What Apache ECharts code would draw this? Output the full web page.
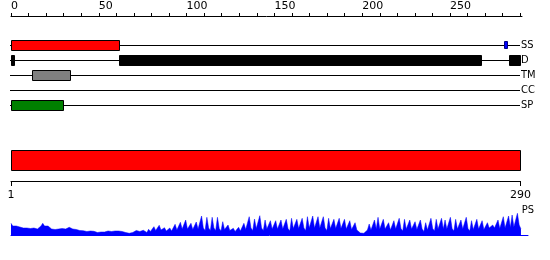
<!DOCTYPE html>
<html>
<head>
<meta charset="utf-8">
<script src="https://cdn.jsdelivr.net/npm/echarts@6/dist/echarts.min.js"></script>
<style>html,body{margin:0;padding:0;background:#fff;}#c{width:550px;height:260px;}</style>
</head>
<body>
<div id="c"></div>
<script>
// ---- data ----
var SEQ_LEN = 290;
var TRACKS = ['SS', 'D', 'TM', 'CC', 'SP'];
// feature boxes: [start (residue-1), end residue, track]
var SS_BOXES = [[0, 62, 'SS']];
var SS_SMALL = [[281, 282.7, 'SS']];
var D_BOXES = [[0, 2, 'D'], [62, 268, 'D'], [284, 290, 'D']];
var TM_BOXES = [[12, 34, 'TM']];
var CC_BOXES = [];
var SP_BOXES = [[0, 30, 'SP']];
var FULL_BAR = [[0, 290]];
var TOP_TICK_LABEL_STEP = 50;
var BOTTOM_TICKS = [1, 290];
var PS_VALUES = [
  11.7, 9, 7, 9, 10.5, 8, 6.5, 7, 6.5, 7,
  7.5, 6.5, 6, 7, 7, 6, 7, 9, 11.7, 9,
  7.5, 9, 8, 6, 5.5, 5.5, 6.7, 6, 5, 6.5,
  8, 6, 6.5, 7.7, 6.5, 6, 6, 5.5, 5, 4.5,
  5, 4.3, 4, 3.5, 3.5, 4, 3.5, 3.7, 3, 2.5,
  3, 3, 2.5, 3, 3.5, 4, 3, 3.5, 3.5, 4,
  5, 4, 3, 3.5, 3, 2.5, 2, 1.7, 2, 2.5,
  3.5, 4.5, 5.7, 3.5, 3, 4.7, 3, 2.5, 5.7, 3.5,
  3, 8.3, 4.5, 3.5, 9.7, 5, 3.5, 7.3, 4, 3,
  7, 4, 3.5, 10.7, 5, 4, 12.7, 6, 4, 15,
  6, 4, 11.7, 5.5, 4, 13, 6, 4, 19, 7,
  4.5, 17.7, 7, 4.5, 17.7, 7, 4.5, 17.7, 6.5, 4,
  13.3, 5.5, 3.5, 10, 4.5, 3, 6.7, 3.5, 3, 7.7,
  4, 3.5, 11.7, 5.5, 4, 18.3, 7, 4.5, 16, 6.5,
  4.5, 19.3, 7, 4.5, 15, 6, 4, 14.3, 6, 4,
  14.3, 6, 4, 15, 6, 4, 15.7, 6.5, 4, 16.7,
  6.5, 4.5, 15.7, 6.5, 4.5, 16.7, 7, 4.5, 18.3, 7,
  5, 19, 7, 5, 18.3, 7, 5, 18.3, 7, 4.5,
  16.7, 6.5, 4.5, 15.7, 6.5, 4.5, 16.7, 6.5, 4.5, 15.7,
  6, 4, 14.3, 5.5, 4, 12.3, 5, 3, 2, 1.7,
  1.7, 3, 5, 11, 5, 3.5, 15, 6, 17.7, 6,
  4, 15.7, 6, 4, 12.3, 5, 3.5, 14.3, 6, 4,
  16.7, 6.5, 4, 15.7, 6, 4, 15, 6, 4, 13.3,
  5.5, 4, 15, 6, 3.5, 12.3, 5, 3.5, 16.7, 6.5,
  4, 15.7, 6, 4, 16.7, 6, 15, 6, 4, 17.7,
  6.5, 4, 15.7, 6, 4, 15, 6, 4, 17.7, 6.5,
  4, 14.3, 5.5, 4, 15.7, 6, 4, 14.3, 5.5, 4,
  12.3, 7, 6.7, 10, 7, 5, 15, 6.5, 5, 18.3,
  7, 5, 19, 7.5, 20, 8, 6, 21.7, 10, 6
];

// ---- chart ----
var chart = echarts.init(document.getElementById('c'), null, {renderer: 'canvas'});
var FONT = 'DejaVu Sans';
var LABEL_FONT = 'DejaVu Sans Condensed, DejaVu Sans';

function crisp(v) { return Math.round(v) + 0.5; }

function boxRenderer(fill, stroke, hFrac) {
  return function (params, api) {
    var p0 = api.coord([api.value(0), api.value(2)]);
    var p1 = api.coord([api.value(1), api.value(2)]);
    var h = Math.round(api.size([0, 1])[1] * hFrac);
    var x0 = crisp(p0[0] - 0.5), x1 = crisp(p1[0] - 0.5);
    var y0 = crisp(p0[1] - h / 2 - 0.5);
    return {
      type: 'rect',
      shape: {x: x0, y: y0, width: x1 - x0, height: h},
      style: {fill: fill, stroke: stroke, lineWidth: 1}
    };
  };
}
function lineRenderer(params, api) {
  var p0 = api.coord([0, api.value(0)]);
  var p1 = api.coord([SEQ_LEN, api.value(0)]);
  var y = crisp(p0[1] - 0.5);
  return {
    type: 'line',
    shape: {x1: Math.round(p0[0]) - 1, y1: y, x2: Math.round(p1[0]), y2: y},
    style: {stroke: '#000', lineWidth: 1}
  };
}
function boxSeries(data, fill, stroke, hFrac) {
  return {
    type: 'custom', xAxisIndex: 1, yAxisIndex: 1, z: 3,
    renderItem: boxRenderer(fill, stroke, hFrac),
    encode: {x: [0, 1], y: 2},
    data: data
  };
}

var psData = PS_VALUES.map(function (v, i) { return [i + 1, v]; });

var hidden = {show: false};
var option = {
  animation: false,
  backgroundColor: '#fff',
  grid: [
    {left: 11, top: 15, width: 511, height: 1},          // top ruler
    {left: 11, top: 45, width: 509, height: 60},         // tracks
    {left: 11, top: 150, width: 509, height: 20},        // full-length bar
    {left: 11, top: 180, width: 509.5, height: 1},       // bottom ruler
    {left: 11, top: 212, width: 517, height: 23}         // PS profile
  ],
  xAxis: [
    {
      gridIndex: 0, type: 'value', position: 'top', min: 0, max: 291, interval: 10,
      axisLine: {show: true, lineStyle: {color: '#000', width: 1}},
      axisTick: {show: true, length: 3, lineStyle: {color: '#000'}},
      axisLabel: {
        show: true, align: 'left', margin: 3, fontFamily: FONT, fontSize: 11, color: '#000',
        showMaxLabel: false,
        formatter: function (v) { return v % TOP_TICK_LABEL_STEP === 0 ? String(v) : ''; }
      },
      splitLine: {show: false}
    },
    {gridIndex: 1, type: 'value', min: 0, max: SEQ_LEN, show: false},
    {gridIndex: 2, type: 'value', min: 0, max: SEQ_LEN, show: false},
    {
      gridIndex: 3, type: 'value', position: 'top', min: 1, max: 290,
      axisLine: {show: true, lineStyle: {color: '#000', width: 1}},
      axisTick: {show: true, inside: true, length: 5, customValues: BOTTOM_TICKS, lineStyle: {color: '#000'}},
      axisLabel: {show: true, inside: true, margin: 10, customValues: BOTTOM_TICKS, fontFamily: FONT, fontSize: 11, color: '#000', verticalAlign: 'top'},
      splitLine: {show: false}
    },
    {
      gridIndex: 4, type: 'value', min: 1, max: 294,
      axisLine: {show: true, onZero: false, lineStyle: {color: '#0000ff', width: 1}},
      axisTick: hidden, axisLabel: hidden, splitLine: hidden
    }
  ],
  yAxis: [
    {gridIndex: 0, type: 'value', show: false},
    {
      gridIndex: 1, type: 'category', data: TRACKS, inverse: true, boundaryGap: false, position: 'right',
      axisLine: hidden, axisTick: hidden, splitLine: hidden,
      axisLabel: {show: true, margin: 1, fontFamily: LABEL_FONT, fontSize: 11, color: '#000'}
    },
    {gridIndex: 2, type: 'value', min: 0, max: 1, show: false},
    {gridIndex: 3, type: 'value', show: false},
    {
      gridIndex: 4, type: 'value', min: 0, max: 23, position: 'right',
      axisLine: hidden, axisTick: hidden, axisLabel: hidden, splitLine: hidden,
      name: 'PS', nameLocation: 'end', nameGap: 2,
      nameTextStyle: {fontFamily: LABEL_FONT, fontSize: 11, color: '#000', align: 'center', verticalAlign: 'middle'}
    }
  ],
  series: [
    {
      type: 'custom', xAxisIndex: 1, yAxisIndex: 1, z: 2,
      renderItem: lineRenderer, encode: {y: 0},
      data: TRACKS.map(function (t) { return [t]; })
    },
    boxSeries(SS_BOXES, '#ff0000', '#000', 0.667),
    boxSeries(SS_SMALL, '#0000ff', '#000080', 0.45),
    boxSeries(D_BOXES, '#000', '#000', 0.667),
    boxSeries(TM_BOXES, '#808080', '#000', 0.667),
    boxSeries(CC_BOXES, '#ffff00', '#000', 0.667),
    boxSeries(SP_BOXES, '#008000', '#000', 0.667),
    {
      type: 'custom', xAxisIndex: 2, yAxisIndex: 2,
      renderItem: function (params, api) {
        var p0 = api.coord([api.value(0), 1]);
        var p1 = api.coord([api.value(1), 0]);
        var x0 = crisp(p0[0] - 0.5), x1 = crisp(p1[0] - 0.5);
        var y0 = crisp(p0[1] - 0.5), y1 = crisp(p1[1] - 0.5);
        return {type: 'rect', shape: {x: x0, y: y0, width: x1 - x0, height: y1 - y0},
          style: {fill: '#ff0000', stroke: '#000', lineWidth: 1}};
      },
      encode: {x: [0, 1]},
      data: FULL_BAR
    },
    {
      type: 'line', xAxisIndex: 4, yAxisIndex: 4, data: psData,
      symbol: 'none', lineStyle: {width: 0.5, color: '#0000ff'},
      areaStyle: {color: '#0000ff', opacity: 1}
    }
  ]
};
chart.setOption(option);
</script>
</body>
</html>
